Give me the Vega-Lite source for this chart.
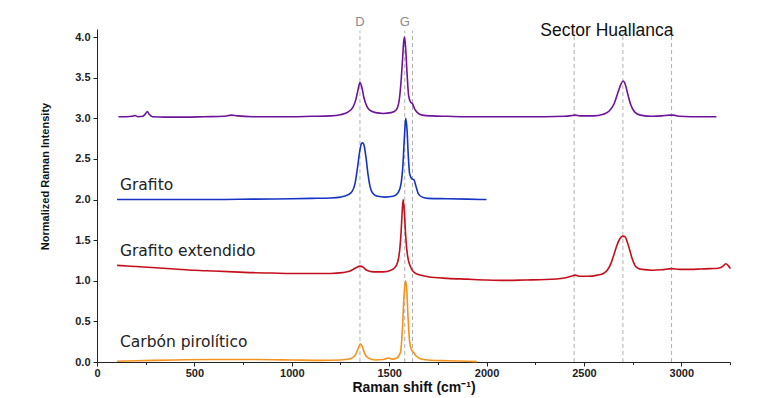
{
  "$schema": "https://vega.github.io/schema/vega-lite/v6.json",
  "width": 633,
  "height": 333,
  "autosize": "none",
  "padding": {"left": 97, "top": 29, "right": 35, "bottom": 36},
  "background": "white",
  "config": {"view": {"stroke": null}, "font": "Liberation Sans"},
  "datasets": {
    "spectra": [
      {"s":"H","x":110,"y":3.02},{"s":"H","x":150,"y":3.02},{"s":"H","x":180,"y":3.025},{"s":"H","x":195,"y":3.035},{"s":"H","x":210,"y":3.02},{"s":"H","x":235,"y":3.025},{"s":"H","x":250,"y":3.06},{"s":"H","x":258,"y":3.085},{"s":"H","x":268,"y":3.05},{"s":"H","x":285,"y":3.02},{"s":"H","x":350,"y":3.015},{"s":"H","x":450,"y":3.015},{"s":"H","x":550,"y":3.02},{"s":"H","x":650,"y":3.025},{"s":"H","x":690,"y":3.04},{"s":"H","x":720,"y":3.03},{"s":"H","x":800,"y":3.02},{"s":"H","x":900,"y":3.02},{"s":"H","x":1000,"y":3.02},{"s":"H","x":1100,"y":3.025},{"s":"H","x":1200,"y":3.03},{"s":"H","x":1250,"y":3.045},{"s":"H","x":1290,"y":3.08},{"s":"H","x":1315,"y":3.14},{"s":"H","x":1330,"y":3.24},{"s":"H","x":1340,"y":3.35},{"s":"H","x":1350,"y":3.44},{"s":"H","x":1360,"y":3.38},{"s":"H","x":1370,"y":3.26},{"s":"H","x":1385,"y":3.15},{"s":"H","x":1400,"y":3.1},{"s":"H","x":1430,"y":3.07},{"s":"H","x":1470,"y":3.06},{"s":"H","x":1510,"y":3.07},{"s":"H","x":1535,"y":3.1},{"s":"H","x":1550,"y":3.2},{"s":"H","x":1560,"y":3.42},{"s":"H","x":1568,"y":3.7},{"s":"H","x":1575,"y":3.95},{"s":"H","x":1579,"y":4.0},{"s":"H","x":1585,"y":3.85},{"s":"H","x":1592,"y":3.55},{"s":"H","x":1600,"y":3.28},{"s":"H","x":1610,"y":3.2},{"s":"H","x":1620,"y":3.18},{"s":"H","x":1630,"y":3.12},{"s":"H","x":1645,"y":3.07},{"s":"H","x":1670,"y":3.04},{"s":"H","x":1720,"y":3.03},{"s":"H","x":1800,"y":3.025},{"s":"H","x":1900,"y":3.02},{"s":"H","x":2000,"y":3.02},{"s":"H","x":2100,"y":3.02},{"s":"H","x":2200,"y":3.02},{"s":"H","x":2300,"y":3.02},{"s":"H","x":2400,"y":3.025},{"s":"H","x":2440,"y":3.035},{"s":"H","x":2455,"y":3.04},{"s":"H","x":2480,"y":3.03},{"s":"H","x":2550,"y":3.03},{"s":"H","x":2600,"y":3.05},{"s":"H","x":2630,"y":3.09},{"s":"H","x":2655,"y":3.18},{"s":"H","x":2675,"y":3.32},{"s":"H","x":2690,"y":3.42},{"s":"H","x":2702,"y":3.46},{"s":"H","x":2712,"y":3.42},{"s":"H","x":2725,"y":3.3},{"s":"H","x":2740,"y":3.17},{"s":"H","x":2760,"y":3.08},{"s":"H","x":2790,"y":3.04},{"s":"H","x":2850,"y":3.025},{"s":"H","x":2900,"y":3.03},{"s":"H","x":2940,"y":3.04},{"s":"H","x":2960,"y":3.04},{"s":"H","x":2990,"y":3.025},{"s":"H","x":3050,"y":3.02},{"s":"H","x":3100,"y":3.02},{"s":"H","x":3180,"y":3.02},

      {"s":"G","x":103,"y":2.0},{"s":"G","x":200,"y":2.0},{"s":"G","x":400,"y":2.0},{"s":"G","x":600,"y":2.0},{"s":"G","x":800,"y":2.005},{"s":"G","x":1000,"y":2.01},{"s":"G","x":1100,"y":2.015},{"s":"G","x":1200,"y":2.02},{"s":"G","x":1250,"y":2.03},{"s":"G","x":1290,"y":2.06},{"s":"G","x":1310,"y":2.1},{"s":"G","x":1325,"y":2.2},{"s":"G","x":1338,"y":2.4},{"s":"G","x":1348,"y":2.58},{"s":"G","x":1358,"y":2.69},{"s":"G","x":1365,"y":2.7},{"s":"G","x":1372,"y":2.66},{"s":"G","x":1382,"y":2.5},{"s":"G","x":1392,"y":2.3},{"s":"G","x":1402,"y":2.16},{"s":"G","x":1415,"y":2.08},{"s":"G","x":1440,"y":2.04},{"s":"G","x":1480,"y":2.03},{"s":"G","x":1520,"y":2.04},{"s":"G","x":1545,"y":2.08},{"s":"G","x":1560,"y":2.18},{"s":"G","x":1570,"y":2.4},{"s":"G","x":1578,"y":2.75},{"s":"G","x":1585,"y":3.0},{"s":"G","x":1592,"y":2.85},{"s":"G","x":1598,"y":2.55},{"s":"G","x":1605,"y":2.32},{"s":"G","x":1615,"y":2.26},{"s":"G","x":1628,"y":2.24},{"s":"G","x":1638,"y":2.16},{"s":"G","x":1650,"y":2.07},{"s":"G","x":1670,"y":2.03},{"s":"G","x":1700,"y":2.015},{"s":"G","x":1800,"y":2.01},{"s":"G","x":1900,"y":2.005},{"s":"G","x":2000,"y":2.0},

      {"s":"GE","x":103,"y":1.19},{"s":"GE","x":200,"y":1.175},{"s":"GE","x":300,"y":1.16},{"s":"GE","x":400,"y":1.145},{"s":"GE","x":500,"y":1.13},{"s":"GE","x":600,"y":1.12},{"s":"GE","x":700,"y":1.11},{"s":"GE","x":800,"y":1.1},{"s":"GE","x":900,"y":1.095},{"s":"GE","x":1000,"y":1.09},{"s":"GE","x":1100,"y":1.09},{"s":"GE","x":1200,"y":1.09},{"s":"GE","x":1260,"y":1.1},{"s":"GE","x":1300,"y":1.12},{"s":"GE","x":1330,"y":1.16},{"s":"GE","x":1350,"y":1.18},{"s":"GE","x":1365,"y":1.17},{"s":"GE","x":1385,"y":1.13},{"s":"GE","x":1420,"y":1.11},{"s":"GE","x":1470,"y":1.11},{"s":"GE","x":1510,"y":1.13},{"s":"GE","x":1535,"y":1.18},{"s":"GE","x":1550,"y":1.3},{"s":"GE","x":1560,"y":1.55},{"s":"GE","x":1567,"y":1.85},{"s":"GE","x":1572,"y":2.0},{"s":"GE","x":1578,"y":1.85},{"s":"GE","x":1585,"y":1.55},{"s":"GE","x":1595,"y":1.3},{"s":"GE","x":1610,"y":1.17},{"s":"GE","x":1630,"y":1.1},{"s":"GE","x":1660,"y":1.07},{"s":"GE","x":1700,"y":1.05},{"s":"GE","x":1800,"y":1.03},{"s":"GE","x":1900,"y":1.02},{"s":"GE","x":2000,"y":1.01},{"s":"GE","x":2100,"y":1.005},{"s":"GE","x":2200,"y":1.01},{"s":"GE","x":2300,"y":1.015},{"s":"GE","x":2400,"y":1.035},{"s":"GE","x":2440,"y":1.06},{"s":"GE","x":2455,"y":1.07},{"s":"GE","x":2480,"y":1.055},{"s":"GE","x":2520,"y":1.055},{"s":"GE","x":2570,"y":1.07},{"s":"GE","x":2600,"y":1.09},{"s":"GE","x":2620,"y":1.13},{"s":"GE","x":2640,"y":1.22},{"s":"GE","x":2655,"y":1.33},{"s":"GE","x":2670,"y":1.44},{"s":"GE","x":2685,"y":1.52},{"s":"GE","x":2700,"y":1.55},{"s":"GE","x":2712,"y":1.54},{"s":"GE","x":2722,"y":1.48},{"s":"GE","x":2735,"y":1.38},{"s":"GE","x":2748,"y":1.27},{"s":"GE","x":2762,"y":1.19},{"s":"GE","x":2780,"y":1.15},{"s":"GE","x":2800,"y":1.14},{"s":"GE","x":2850,"y":1.13},{"s":"GE","x":2900,"y":1.135},{"s":"GE","x":2950,"y":1.15},{"s":"GE","x":2990,"y":1.14},{"s":"GE","x":3050,"y":1.14},{"s":"GE","x":3100,"y":1.145},{"s":"GE","x":3150,"y":1.15},{"s":"GE","x":3190,"y":1.155},{"s":"GE","x":3215,"y":1.18},{"s":"GE","x":3228,"y":1.21},{"s":"GE","x":3240,"y":1.19},{"s":"GE","x":3252,"y":1.15},

      {"s":"CP","x":103,"y":0.01},{"s":"CP","x":200,"y":0.015},{"s":"CP","x":400,"y":0.025},{"s":"CP","x":600,"y":0.03},{"s":"CP","x":800,"y":0.03},{"s":"CP","x":1000,"y":0.025},{"s":"CP","x":1150,"y":0.02},{"s":"CP","x":1250,"y":0.025},{"s":"CP","x":1300,"y":0.04},{"s":"CP","x":1325,"y":0.08},{"s":"CP","x":1340,"y":0.16},{"s":"CP","x":1352,"y":0.225},{"s":"CP","x":1362,"y":0.19},{"s":"CP","x":1375,"y":0.1},{"s":"CP","x":1395,"y":0.045},{"s":"CP","x":1430,"y":0.025},{"s":"CP","x":1470,"y":0.03},{"s":"CP","x":1495,"y":0.05},{"s":"CP","x":1515,"y":0.035},{"s":"CP","x":1540,"y":0.05},{"s":"CP","x":1558,"y":0.12},{"s":"CP","x":1568,"y":0.4},{"s":"CP","x":1576,"y":0.8},{"s":"CP","x":1584,"y":1.0},{"s":"CP","x":1590,"y":0.9},{"s":"CP","x":1597,"y":0.55},{"s":"CP","x":1605,"y":0.25},{"s":"CP","x":1615,"y":0.15},{"s":"CP","x":1625,"y":0.12},{"s":"CP","x":1640,"y":0.07},{"s":"CP","x":1660,"y":0.04},{"s":"CP","x":1700,"y":0.025},{"s":"CP","x":1800,"y":0.015},{"s":"CP","x":1900,"y":0.01},{"s":"CP","x":1950,"y":0.005}
    ],
    "guides": [{"x":1350},{"x":1580},{"x":1620},{"x":2450},{"x":2700},{"x":2950}],
    "curveLabels": [
      {"t":"Grafito","x":118,"y":2.12},
      {"t":"Grafito extendido","x":118,"y":1.31},
      {"t":"Carbón pirolítico","x":118,"y":0.18}
    ],
    "bandLabels": [{"t":"D","x":1350,"y":4.14},{"t":"G","x":1580,"y":4.14}],
    "sector": [{"t":"Sector Huallanca","x":2618,"y":4.07}]
  },
  "layer": [
    {
      "data": {"name": "guides"},
      "mark": {"type": "rule", "color": "#b0b0b0", "strokeDash": [4, 3], "strokeWidth": 1},
      "encoding": {
        "x": {"field": "x", "type": "quantitative", "scale": {"domain": [0, 3250], "nice": false},
          "axis": {"title": "Raman shift (cm⁻¹)", "values": [0,250,500,750,1000,1250,1500,1750,2000,2250,2500,2750,3000,3250], "format": "d", "labelExpr": "datum.value % 500 === 0 ? datum.label : ''", "tickSize": {"condition": {"test": "datum.value % 500 === 0", "value": 4}, "value": 2.5}, "grid": false, "domainColor": "#222", "tickColor": "#222", "labelFontWeight": "bold", "labelFontSize": 11, "labelColor": "#222", "labelPadding": 1, "labelFlush": false, "titleFontWeight": "bold", "titleFontSize": 14, "titleColor": "#111", "titlePadding": 2}},
        "y": {"datum": 0, "type": "quantitative", "scale": {"domain": [0, 4.1], "nice": false}},
        "y2": {"datum": 4.08}
      }
    },
    {
      "data": {"name": "spectra"},
      "mark": {"type": "line", "strokeWidth": 1.6, "interpolate": "monotone"},
      "encoding": {
        "x": {"field": "x", "type": "quantitative", "scale": {"domain": [0, 3250], "nice": false},
          "axis": {"title": "Raman shift (cm⁻¹)", "values": [0,250,500,750,1000,1250,1500,1750,2000,2250,2500,2750,3000,3250], "format": "d", "labelExpr": "datum.value % 500 === 0 ? datum.label : ''", "tickSize": {"condition": {"test": "datum.value % 500 === 0", "value": 4}, "value": 2.5}, "grid": false, "domainColor": "#222", "tickColor": "#222", "labelFontWeight": "bold", "labelFontSize": 11, "labelColor": "#222", "labelPadding": 1, "labelFlush": false, "titleFontWeight": "bold", "titleFontSize": 14, "titleColor": "#111", "titlePadding": 2}},
        "y": {"field": "y", "type": "quantitative", "scale": {"domain": [0, 4.1], "nice": false},
          "axis": {"title": "Normalized Raman Intensity", "values": [0,0.25,0.5,0.75,1,1.25,1.5,1.75,2,2.25,2.5,2.75,3,3.25,3.5,3.75,4], "format": ".1f", "labelExpr": "datum.value % 0.5 === 0 ? datum.label : ''", "tickSize": {"condition": {"test": "datum.value % 0.5 === 0", "value": 4}, "value": 2.5}, "grid": false, "domainColor": "#222", "tickColor": "#222", "labelFontWeight": "bold", "labelFontSize": 11, "labelColor": "#222", "labelPadding": 3, "titleFont": "Liberation Sans", "titleFontWeight": "bold", "titleFontSize": 11, "titleColor": "#111", "titleX": -52, "titleY": 147, "titleAlign": "center", "titleBaseline": "middle", "titleAngle": -90}},
        "color": {"field": "s", "type": "nominal", "scale": {"domain": ["H", "G", "GE", "CP"], "range": ["#6c149c", "#1634c4", "#c4101c", "#f5921e"]}, "legend": null},
        "detail": {"field": "s"}
      }
    },
    {
      "data": {"name": "curveLabels"},
      "mark": {"type": "text", "font": "DejaVu Sans", "fontSize": 15.5, "align": "left", "baseline": "alphabetic", "color": "#222"},
      "encoding": {
        "x": {"field": "x", "type": "quantitative", "scale": {"domain": [0, 3250], "nice": false}},
        "y": {"field": "y", "type": "quantitative", "scale": {"domain": [0, 4.1], "nice": false}},
        "text": {"field": "t"}
      }
    },
    {
      "data": {"name": "bandLabels"},
      "mark": {"type": "text", "font": "Liberation Sans", "fontSize": 13, "align": "center", "baseline": "alphabetic", "color": "#8a8a8a"},
      "encoding": {
        "x": {"field": "x", "type": "quantitative", "scale": {"domain": [0, 3250], "nice": false}},
        "y": {"field": "y", "type": "quantitative", "scale": {"domain": [0, 4.1], "nice": false}},
        "text": {"field": "t"}
      }
    },
    {
      "data": {"name": "sector"},
      "mark": {"type": "text", "font": "Liberation Sans", "fontSize": 17.5, "align": "center", "baseline": "middle", "color": "#111"},
      "encoding": {
        "x": {"field": "x", "type": "quantitative", "scale": {"domain": [0, 3250], "nice": false}},
        "y": {"field": "y", "type": "quantitative", "scale": {"domain": [0, 4.1], "nice": false}},
        "text": {"field": "t"}
      }
    }
  ]
}
